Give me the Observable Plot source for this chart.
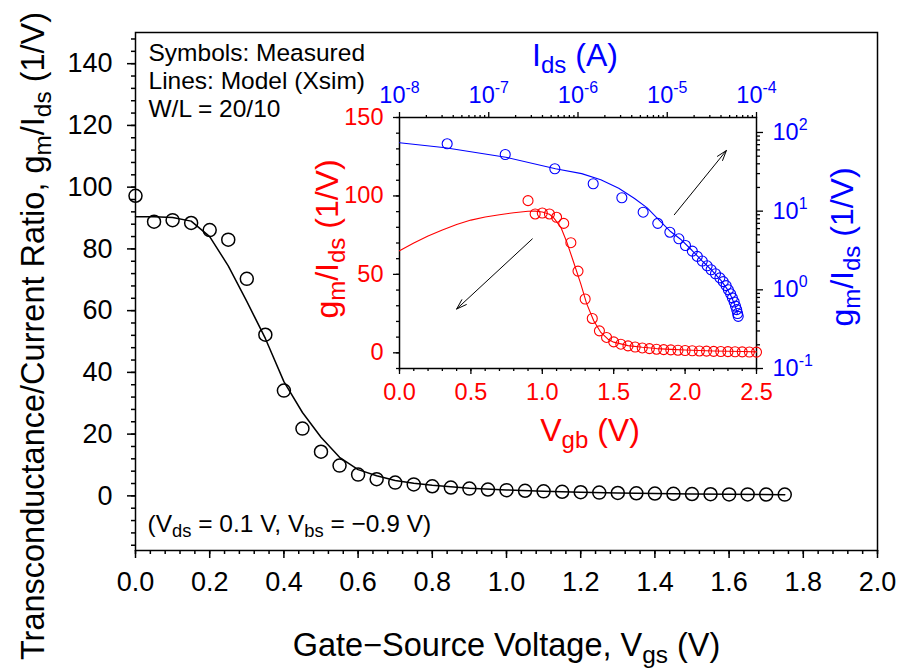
<!DOCTYPE html>
<html><head><meta charset="utf-8">
<script src="https://cdn.jsdelivr.net/npm/d3@7"></script>
<script src="https://cdn.jsdelivr.net/npm/@observablehq/plot@0.6"></script>
<style>
html,body{margin:0;padding:0;background:#fff;}
#chart{position:relative;width:899px;height:671px;}
#chart > svg{position:absolute;left:0;top:0;}
</style></head><body><div id="chart"></div>
<script>
// ---------- data ----------
const mainVgs = [0.00,0.05,0.10,0.15,0.20,0.25,0.30,0.35,0.40,0.45,0.50,0.55,0.60,0.65,0.70,0.75,0.80,0.85,0.90,0.95,1.00,1.05,1.10,1.15,1.20,1.25,1.30,1.35,1.40,1.45,1.50,1.55,1.60,1.65,1.70,1.75];
const mainGmIds = [97.2,88.8,89.3,88.4,86.1,83.0,70.3,52.2,34.1,21.8,14.3,9.8,6.9,5.4,4.3,3.7,3.1,2.7,2.35,2.05,1.85,1.65,1.47,1.32,1.18,1.05,0.94,0.84,0.75,0.67,0.6,0.53,0.48,0.46,0.44,0.42];
const mainModelVgs = [0,0.05,0.10,0.15,0.20,0.25,0.30,0.35,0.40,0.45,0.50,0.55,0.60,0.65,0.70,0.75,0.80,0.90,1.00,1.10,1.20,1.30,1.40,1.50,1.60,1.75];
const mainModelGmIds = [90.4,90.4,90.2,89.0,84.0,74.5,63.0,51.0,37.0,27.0,19.0,12.5,8.5,6.5,5.0,4.1,3.4,2.5,1.9,1.5,1.2,0.95,0.75,0.6,0.5,0.4];

const insetVgb = [0.90,0.95,1.00,1.05,1.10,1.15,1.20,1.25,1.30,1.35,1.40,1.45,1.50,1.55,1.60,1.65,1.70,1.75,1.80,1.85,1.90,1.95,2.00,2.05,2.10,2.15,2.20,2.25,2.30,2.35,2.40,2.45,2.50];
const insetGmIds = [97.0,88.5,89.1,88.5,86.4,82.5,70.2,52.1,34.3,21.9,14.0,9.8,7.0,5.5,4.4,3.7,3.1,2.7,2.3,2.05,1.85,1.65,1.47,1.32,1.18,1.05,0.94,0.84,0.75,0.67,0.6,0.53,0.46];
const insetModelVgb = [0,0.1,0.2,0.3,0.4,0.5,0.6,0.7,0.8,0.9,0.95,1.0,1.05,1.08,1.13,1.17,1.22,1.27,1.31,1.36,1.41,1.46,1.5,1.6,1.7,1.8,1.9,2.0,2.2,2.4,2.5];
const insetModelGmIds = [65,70,74.5,78.3,81.8,84.6,86.6,88,89.3,90.2,90.3,89.8,88.3,86,80,71,57.6,43.8,31.5,20.4,13,8.7,6.8,4.6,3.5,2.7,2.2,1.8,1.2,0.8,0.6];

const blueIds = [3.42e-8,1.53e-7,5.5e-7,1.48e-6,3.10e-6,5.37e-6,7.83e-6,1.07e-5,1.35e-5,1.60e-5,1.91e-5,2.17e-5,2.47e-5,2.80e-5,3.10e-5,3.47e-5,3.89e-5,4.24e-5,4.57e-5,4.84e-5,5.13e-5,5.37e-5,5.62e-5,5.82e-5,6.0e-5,6.14e-5,6.24e-5];
const blueGmIds = [71.8,52.5,34.6,22.3,14.8,9.7,7.0,5.4,4.45,3.66,3.1,2.66,2.32,2.02,1.8,1.6,1.42,1.27,1.13,1.0,0.89,0.79,0.70,0.62,0.56,0.5,0.46];
const blueModelIds = [1e-8,3.27e-8,1.55e-7,5.6e-7,1.1e-6,1.8e-6,2.86e-6,4.3e-6,5.96e-6,7.9e-6,1.07e-5,1.41e-5,1.9e-5,2.5e-5,3.2e-5,4.0e-5,4.7e-5,5.25e-5,5.75e-5,6.1e-5];
const blueModelGmIds = [74,64,48.5,34.6,30.0,25.0,19.5,14.5,11.0,7.9,5.6,4.4,3.16,2.29,1.74,1.32,1.02,0.81,0.63,0.5];

// annotation arrows (data units of each inset scale)
const redArrow = [{x1: 0.93, y1: 72.6, x2: 0.40, y2: 27.9}];
const blueArrow = [{x1: 1.2e-5, y1: 9.0, x2: 4.6e-5, y2: 59}];

// ticks
const mainXTicks = [0,0.2,0.4,0.6,0.8,1.0,1.2,1.4,1.6,1.8,2.0];
const mainYTicks = [0,20,40,60,80,100,120,140];
const redXTicks = [0,0.5,1.0,1.5,2.0,2.5];
const redYTicks = [0,50,100,150];
const blueXTicks = [1e-8,1e-7,1e-6,1e-5,1e-4];
const blueYTicks = [0.1,1,10,100];
const mainXMinor = d3.range(0, 2.0001, 0.04);
const mainYMinor = d3.range(-16, 150.01, 4);
const redXMinor = d3.range(0, 2.5001, 0.1);
const redYMinor = d3.range(-10, 150.01, 10);
const logMinor = (e0, e1, max) => { const a = []; for (let e = e0; e <= e1; e++) for (let k = 2; k <= 9; k++) { const v = k * Math.pow(10, e); if (v <= max) a.push(v); } return a; };
const blueXMinor = logMinor(-8, -5, 1e-4);
const blueYMinor = logMinor(-1, 2, 155);

// texts
const mainNotes = ["Symbols: Measured", "Lines: Model (Xsim)", "W/L = 20/10"];
const biasNote = "(V_{ds} = 0.1 V, V_{bs} = \u22120.9 V)";
const mainXTitle = "Gate\u2212Source Voltage, V_{gs} (V)";
const mainYTitle = "Transconductance/Current Ratio, g_{m}/I_{ds} (1/V)";
const redXTitle = "V_{gb} (V)";
const redYTitle = "g_{m}/I_{ds} (1/V)";
const blueXTitle = "I_{ds} (A)";
const blueYTitle = "g_{m}/I_{ds} (1/V)";

// ---------- drawing ----------
const W = 899, H = 671;
const FONT = "'Liberation Sans', Arial, Helvetica, sans-serif";
const RED = "#ff0000", BLUE = "#0000ff";
const baseStyle = {fontFamily: FONT, background: "transparent", overflow: "visible", color: "black"};
const noLabel = () => "";

const main = Plot.plot({
  width: W, height: H,
  marginLeft: 135, marginRight: 22, marginTop: 32, marginBottom: 121,
  style: baseStyle,
  x: {domain: [0, 2], label: null},
  y: {domain: [-17.7, 150.1], label: null},
  marks: [
    Plot.axisX(mainXTicks, {tickFormat: d3.format(".1f"), tickSize: 8, tickPadding: 13, fontSize: 27, strokeWidth: 1.5, label: null}),
    Plot.axisX(mainXMinor, {tickFormat: noLabel, tickSize: 4, strokeWidth: 1.5, label: null}),
    Plot.axisY(mainYTicks, {tickSize: 8, tickPadding: 15, fontSize: 27, strokeWidth: 1.5, label: null}),
    Plot.axisY(mainYMinor, {tickFormat: noLabel, tickSize: 4, strokeWidth: 1.5, label: null}),
    Plot.frame({stroke: "black", strokeWidth: 1.5}),
    Plot.line(mainModelVgs, {x: mainModelVgs, y: mainModelGmIds, stroke: "black", strokeWidth: 1.5}),
    Plot.dot(mainVgs, {x: mainVgs, y: mainGmIds, r: 6.5, stroke: "black", strokeWidth: 1.5, fill: "none"}),
    Plot.text([mainNotes.join("\n")], {frameAnchor: "top-left", textAnchor: "start", lineAnchor: "top", dx: 13, dy: 9, fontSize: 24.5, lineHeight: 1.14}),
    Plot.text([biasNote], {frameAnchor: "bottom-left", textAnchor: "start", lineAnchor: "bottom", dx: 12, dy: -19, fontSize: 24.5}),
    Plot.text([mainXTitle], {frameAnchor: "bottom", textAnchor: "middle", lineAnchor: "bottom", dy: 105, fontSize: 32.5}),
    Plot.text([mainYTitle], {frameAnchor: "left", textAnchor: "middle", rotate: -90, lineAnchor: "bottom", dx: -92, dy: 44.5, fontSize: 32.5})
  ]
});

const insetM = {marginLeft: 399, marginRight: 143, marginTop: 117, marginBottom: 303};

const red = Plot.plot({
  width: W, height: H, ...insetM,
  style: baseStyle,
  x: {domain: [0, 2.5], label: null},
  y: {domain: [-10, 150], label: null},
  marks: [
    Plot.axisX(redXTicks, {tickFormat: d3.format(".1f"), tickSize: 6, tickPadding: 9, fontSize: 23.5, stroke: "black", fill: RED, strokeWidth: 1.3, label: null}),
    Plot.axisX(redXMinor, {tickFormat: noLabel, tickSize: 3, stroke: "black", strokeWidth: 1.3, label: null}),
    Plot.axisY(redYTicks, {tickSize: 6, tickPadding: 10, fontSize: 23.5, stroke: "black", fill: RED, strokeWidth: 1.3, label: null}),
    Plot.axisY(redYMinor, {tickFormat: noLabel, tickSize: 3, stroke: "black", strokeWidth: 1.3, label: null}),
    Plot.frame({stroke: "black", strokeWidth: 1.5}),
    Plot.line(insetModelVgb, {x: insetModelVgb, y: insetModelGmIds, stroke: RED, strokeWidth: 1.1}),
    Plot.dot(insetVgb, {x: insetVgb, y: insetGmIds, r: 5, stroke: RED, strokeWidth: 1.1, fill: "none"}),
    Plot.arrow(redArrow, {x1: "x1", y1: "y1", x2: "x2", y2: "y2", stroke: "black", strokeWidth: 1, headLength: 16, headAngle: 36}),
    Plot.text([redXTitle], {frameAnchor: "bottom", textAnchor: "middle", lineAnchor: "bottom", dy: 72, dx: 12, fontSize: 32, fill: RED}),
    Plot.text([redYTitle], {frameAnchor: "left", textAnchor: "middle", rotate: -90, lineAnchor: "bottom", dx: -62, dy: -4, fontSize: 32, fill: RED})
  ]
});

const sup = d => `10^{${Math.round(Math.log10(d))}}`;
const blue = Plot.plot({
  width: W, height: H, ...insetM,
  style: baseStyle,
  x: {type: "log", domain: [1e-8, 1e-4], label: null},
  y: {type: "log", domain: [0.1, 155], label: null},
  marks: [
    Plot.axisX(blueXTicks, {anchor: "top", tickFormat: sup, tickSize: 6, tickPadding: 9, fontSize: 23.5, stroke: "black", fill: BLUE, strokeWidth: 1.3, label: null}),
    Plot.axisX(blueXMinor, {anchor: "top", tickFormat: noLabel, tickSize: 3, stroke: "black", strokeWidth: 1.3, label: null}),
    Plot.axisY(blueYTicks, {anchor: "right", tickFormat: sup, tickSize: 6, tickPadding: 10, fontSize: 23.5, stroke: "black", fill: BLUE, strokeWidth: 1.3, label: null}),
    Plot.axisY(blueYMinor, {anchor: "right", tickFormat: noLabel, tickSize: 3, stroke: "black", strokeWidth: 1.3, label: null}),
    Plot.line(blueModelIds, {x: blueModelIds, y: blueModelGmIds, stroke: BLUE, strokeWidth: 1.1}),
    Plot.dot(blueIds, {x: blueIds, y: blueGmIds, r: 5, stroke: BLUE, strokeWidth: 1.1, fill: "none"}),
    Plot.arrow(blueArrow, {x1: "x1", y1: "y1", x2: "x2", y2: "y2", stroke: "black", strokeWidth: 1, headLength: 16, headAngle: 36}),
    Plot.text([blueXTitle], {frameAnchor: "top", textAnchor: "middle", lineAnchor: "bottom", dy: -52, dx: -3, fontSize: 32, fill: BLUE}),
    Plot.text([blueYTitle], {frameAnchor: "right", textAnchor: "middle", rotate: -90, lineAnchor: "bottom", dx: 96, dy: 4, fontSize: 32, fill: BLUE})
  ]
});

// sub/superscript markup -> tspans
function richText(svg) {
  const NS = "http://www.w3.org/2000/svg";
  for (const t of svg.querySelectorAll("text")) {
    const targets = t.querySelector("tspan") ? [...t.querySelectorAll("tspan")] : [t];
    for (const el of targets) {
      const s = el.textContent;
      if (!/[_^]\{/.test(s)) continue;
      el.textContent = "";
      let shift = 0;
      const add = (txt, kind) => {
        const ts = document.createElementNS(NS, "tspan");
        ts.textContent = txt;
        if (kind === "sub") { ts.setAttribute("font-size", "75%"); ts.setAttribute("dy", ((0.24 - shift) / 0.75).toFixed(3) + "em"); shift = 0.24; }
        else if (kind === "sup") { ts.setAttribute("font-size", "68%"); ts.setAttribute("dy", ((-0.42 - shift) / 0.68).toFixed(3) + "em"); shift = -0.42; }
        else { if (shift) ts.setAttribute("dy", (-shift).toFixed(3) + "em"); shift = 0; }
        el.appendChild(ts);
      };
      const re = /([_^])\{([^}]*)\}/g; let last = 0, m;
      while ((m = re.exec(s))) {
        if (m.index > last) add(s.slice(last, m.index), "n");
        add(m[2], m[1] === "_" ? "sub" : "sup");
        last = re.lastIndex;
      }
      if (last < s.length) add(s.slice(last), "n");
    }
  }
}

const chart = document.getElementById("chart");
for (const svg of [main, red, blue]) { richText(svg); chart.appendChild(svg); }
</script></body></html>
